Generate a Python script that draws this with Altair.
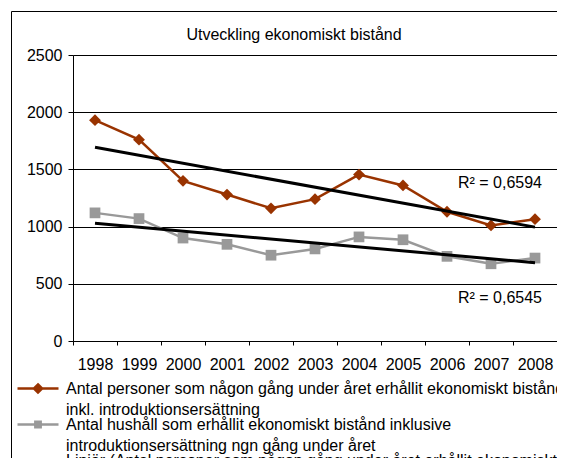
import altair as alt
import pandas as pd

# ---- data ----
years = [1998, 1999, 2000, 2001, 2002, 2003, 2004, 2005, 2006, 2007, 2008]
persons = [1930, 1760, 1400, 1280, 1160, 1240, 1455, 1360, 1130, 1010, 1065]
households = [1120, 1070, 900, 845, 750, 805, 910, 885, 740, 675, 725]

label_persons = "Antal personer som någon gång under året erhållit ekonomiskt bistånd|inkl. introduktionsersättning"
label_households = "Antal hushåll som erhållit ekonomiskt bistånd inklusive|introduktionsersättning ngn gång under året"
label_trend = "Linjär (Antal personer som någon gång under året erhållit ekonomiskt"
series_labels = [label_persons, label_households, label_trend]
series_colors = ["#993300", "#999999", "#000000"]

r2_texts = ["R² = 0,6594", "R² = 0,6545"]
r2_years = [2008, 2008]
r2_values = [1340, 330]

y_ticks = [0, 500, 1000, 1500, 2000, 2500]
title_text = "Utveckling ekonomiskt bistånd"

FONT = "Liberation Sans"

df = pd.DataFrame({
    "year": years * 2,
    "value": persons + households,
    "series": [label_persons] * len(years) + [label_households] * len(years),
})
r2_df = pd.DataFrame({"year": r2_years, "value": r2_values, "text": r2_texts})

x_enc = alt.X(
    "year:O",
    scale=alt.Scale(type="band", domain=years, paddingInner=0, paddingOuter=0),
    axis=alt.Axis(
        title=None, labelAngle=0, tickBand="extent", tickSize=4, labelPadding=11,
        domainColor="black", tickColor="black", labelColor="black",
        labelFont=FONT, labelFontSize=16, grid=False,
    ),
)
y_enc = alt.Y(
    "value:Q",
    scale=alt.Scale(domain=[0, 2500], nice=False),
    axis=alt.Axis(
        title=None, values=y_ticks, format="d", tickSize=5, labelPadding=6, grid=True,
        gridColor="black", gridWidth=1, domainColor="black", tickColor="black",
        labelColor="black", labelFont=FONT, labelFontSize=16,
    ),
)

base = alt.Chart(df)

frame = alt.Chart(pd.DataFrame({"f": [0]})).mark_rect(
    fill="transparent", stroke="black", strokeWidth=1
).encode(
    x=alt.value(-61.5), x2=alt.value(700), y=alt.value(-43.5), y2=alt.value(600)
)

def series_layers(label, color, shape, size):
    sub = base.transform_filter(alt.datum.series == label)
    ln = sub.mark_line(color=color, strokeWidth=2.5).encode(x=x_enc, y=y_enc)
    pt = sub.mark_point(shape=shape, size=size, filled=True, color=color, opacity=1).encode(x=x_enc, y=y_enc)
    return ln + pt

persons_layer = series_layers(label_persons, series_colors[0], "diamond", 140)
house_layer = series_layers(label_households, series_colors[1], "square", 115)

trend = base.transform_regression(
    "year", "value", groupby=["series"]
).mark_line(color="black", strokeWidth=3).encode(x=x_enc, y=y_enc, detail="series:N")

r2 = alt.Chart(r2_df).mark_text(
    align="right", baseline="alphabetic", dx=7, font=FONT, fontSize=16, color="black"
).encode(x=x_enc, y=y_enc, text="text:N")

# legend: one single-entry legend per series, stacked like the original
legend_paths = [
    "M-1,0L1,0M0,-0.2L0.2,0L0,0.2L-0.2,0Z",
    "M-1,0L1,0M-0.13,-0.13L0.13,-0.13L0.13,0.13L-0.13,0.13Z",
    "M-1,0L1,0",
]
legend_widths = [2.5, 2.5, 3]
legend_y = [311.5, 347.5, 384]

def legend_layer(i):
    field = f"s{i}"
    leg = alt.Legend(
        orient="none", legendX=-57, legendY=legend_y[i], direction="vertical", title=None,
        labelFont=FONT, labelFontSize=16, labelColor="black", labelLimit=0,
        labelOffset=6, symbolSize=1681, symbolStrokeWidth=legend_widths[i], padding=0,
        labelExpr="split(datum.label, '|')",
    )
    dom = [series_labels[i]]
    return alt.Chart(pd.DataFrame({field: dom})).transform_filter("false").mark_point(
        filled=True, opacity=1, strokeWidth=legend_widths[i]
    ).encode(
        color=alt.Color(f"{field}:N", scale=alt.Scale(domain=dom, range=[series_colors[i]]), legend=leg),
        stroke=alt.Stroke(f"{field}:N", scale=alt.Scale(domain=dom, range=[series_colors[i]]), legend=leg),
        shape=alt.Shape(f"{field}:N", scale=alt.Scale(domain=dom, range=[legend_paths[i]]), legend=leg),
    )

chart = alt.layer(
    frame, persons_layer, house_layer, trend, r2,
    legend_layer(0), legend_layer(1), legend_layer(2)
).resolve_scale(
    color="independent", stroke="independent", shape="independent"
).resolve_legend(
    color="independent", stroke="independent", shape="independent"
).properties(
    width=484, height=286,
    padding={"left": 65, "top": 47, "right": 0, "bottom": 117},
    autosize=alt.AutoSizeParams(type="none"),
    title=alt.TitleParams(
        title_text, font=FONT, fontSize=16, fontWeight="normal", color="black",
        anchor="middle", dx=-21, dy=32, offset=0,
    ),
).configure_view(
    stroke="black", strokeWidth=1
).configure(
    style={"guide-label": {"lineHeight": 21.7}}
)

chart.save("out.html", embed_options={"renderer": "svg", "actions": False})
